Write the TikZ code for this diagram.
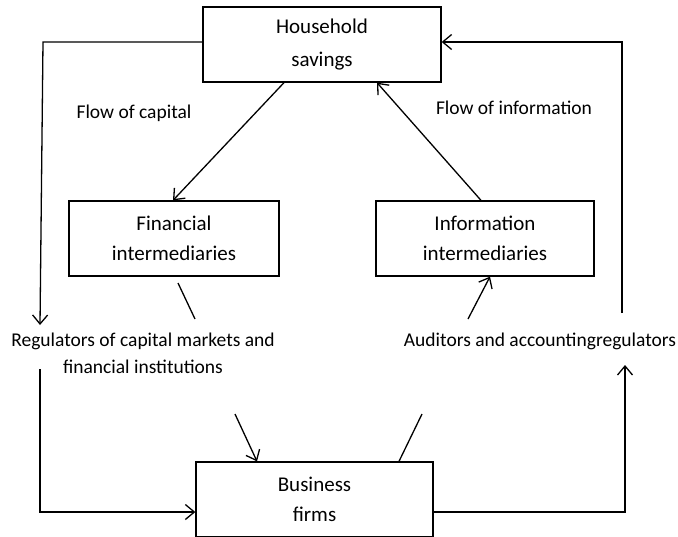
\documentclass[tikz,border=0pt]{standalone}
\usepackage{fontspec}
\setmainfont{Carlito}
\usepackage{tikz}
\usetikzlibrary{arrows.meta}

\begin{document}
\begin{tikzpicture}[x=1pt,y=-1pt,>={Straight Barb[length=9pt,width=15pt]},line width=1.3pt]
		\tikzstyle{box}=[draw,inner sep=0pt,minimum width=238pt,minimum height=75pt,align=center,font=\fontsize{21}{30}\selectfont]
		\tikzstyle{lbl}=[inner sep=0pt,align=center,font=\fontsize{19.5}{27}\selectfont]

		\useasboundingbox (0,0) rectangle (678,536);
		\clip (0,0) rectangle (678,536);

		% boxes
		\node[box,font=\fontsize{21}{33}\selectfont] (house) at (322,44.5) {Household\\savings};
		\node[box,minimum width=210pt] (fin) at (174,238.5) {Financial\\intermediaries};
		\node[box,minimum width=218pt] (info) at (485,238.5) {Information\\intermediaries};
		\node[box,minimum width=237pt] (firms) at (314.5,499.5) {Business\\firms};

		% labels
		\node[lbl] (cap) at (134,113) {Flow of capital};
		\node[lbl] (inf) at (514,108) {Flow of information};
		\node[lbl] (reg) at (143,353.5) {Regulators of capital markets and\\financial institutions};
		\node[lbl] (aud) at (540,341) {Auditors and accountingregulators};

		% corners and loose ends
		\coordinate (tl) at (43,42);
		\coordinate (bl) at (40,325);
		\coordinate (bl2) at (40,369);
		\coordinate (bb) at (40,512);
		\coordinate (tr) at (622,42);
		\coordinate (rt) at (622,313);
		\coordinate (rb) at (625,365);
		\coordinate (br) at (625,512);
		\coordinate (f1) at (178,283);
		\coordinate (f2) at (195,319);
		\coordinate (i1) at (468,319);
		\coordinate (a1) at (235,414);
		\coordinate (a2) at (422,414);

		% flow of capital
		\draw[->] ([xshift=-38pt]house.south) -- ([xshift=-1pt]fin.north);
		\draw[->] (tl -| house.west) -- (tl) -- (bl);
		\draw[->] (bl2) -- (bb) -- (bb -| firms.west);
		\draw (f1) -- (f2);
		\draw[->] (a1) -- ([xshift=-57.5pt]firms.north);

		% flow of information
		\draw[->] ([xshift=-4pt]info.north) -- ([xshift=55pt]house.south);
		\draw[->] (rt) -- (tr) -- (tr -| house.east);
		\draw[->] (firms.east |- br) -- (br) -- (rb);
		\draw ([xshift=84.5pt]firms.north) -- (a2);
		\draw[->] (i1) -- ([xshift=5pt]info.south);
	\end{tikzpicture}
\end{document}
